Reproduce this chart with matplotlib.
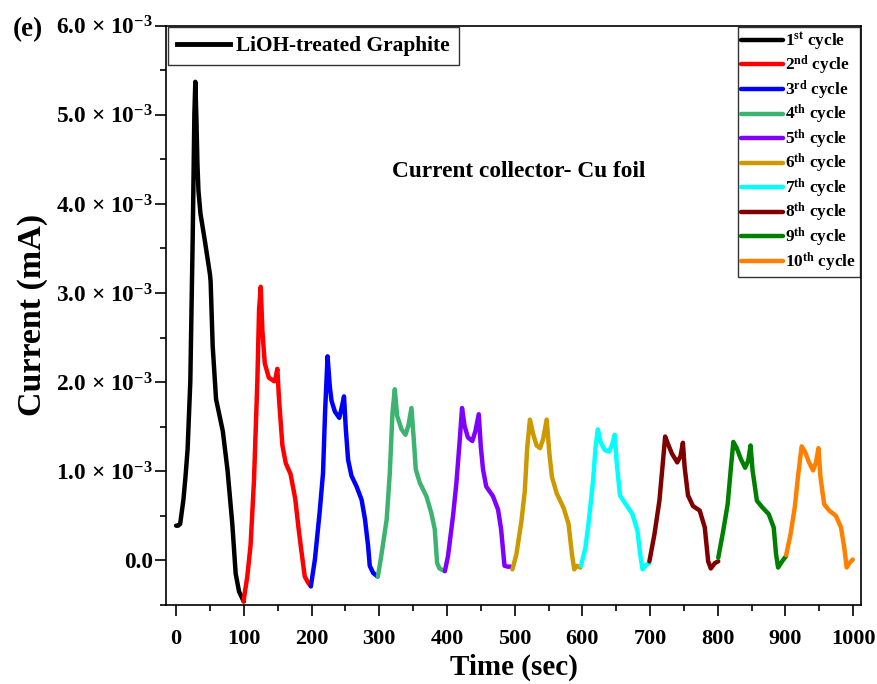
import matplotlib
matplotlib.use("Agg")
import matplotlib.pyplot as plt
from matplotlib.ticker import MultipleLocator, FuncFormatter

plt.rcParams['font.family'] = ['Liberation Serif', 'DejaVu Serif']
plt.rcParams['font.weight'] = 'bold'
plt.rcParams['mathtext.fontset'] = 'custom'
plt.rcParams['mathtext.rm'] = 'Liberation Serif:bold'
plt.rcParams['mathtext.bf'] = 'Liberation Serif:bold'
plt.rcParams['mathtext.it'] = 'Liberation Serif:bold:italic'

SCALE = 1e-3  # currents below are in units of 1e-3 mA

t1 = [0, 3, 6, 10.8, 14, 17, 21, 24.5, 27, 28.4, 30, 31.5, 33, 36, 42, 50, 51, 54, 59, 69, 76, 83, 88, 93, 98, 100]
c1 = [0.39, 0.39, 0.41, 0.68, 0.95, 1.25, 2.01, 3.61, 5.01, 5.37, 4.95, 4.45, 4.15, 3.89, 3.61, 3.21, 3.13, 2.41, 1.81, 1.45, 1.01, 0.41, -0.15, -0.35, -0.43, -0.46]

t2 = [99.5, 105, 110, 115, 120, 122.5, 125, 127.5, 131, 137, 145, 147, 149.5, 152, 157, 162, 169, 176, 181, 186, 190, 195, 199]
c2 = [-0.46, -0.19, 0.17, 0.89, 2.01, 2.81, 3.07, 2.57, 2.21, 2.05, 2.01, 2.05, 2.15, 1.81, 1.29, 1.09, 0.97, 0.69, 0.35, 0.05, -0.18, -0.25, -0.29]

t3 = [199, 205, 212, 217, 220, 223.7, 227, 229.6, 234.5, 241, 243.3, 248, 250.7, 254, 259, 266.5, 274, 279, 283.6, 286, 291, 297.5]
c3 = [-0.29, 0.01, 0.54, 0.98, 1.66, 2.29, 1.95, 1.79, 1.67, 1.60, 1.67, 1.84, 1.47, 1.13, 0.95, 0.83, 0.68, 0.46, 0.16, -0.06, -0.14, -0.18]

t4 = [298, 303, 311, 315.6, 319.6, 323, 326.5, 333, 338.8, 343, 347.6, 351, 354, 360, 369.7, 377, 382, 385.5, 389, 396.8]
c4 = [-0.18, 0.05, 0.46, 0.98, 1.66, 1.92, 1.62, 1.47, 1.41, 1.51, 1.71, 1.36, 1.02, 0.87, 0.72, 0.53, 0.35, -0.03, -0.09, -0.12]

t5 = [397, 401.6, 409, 414, 419, 422.3, 426, 431, 437.5, 442, 447, 450, 453.3, 458, 468, 475.5, 480, 485, 490, 495]
c5 = [-0.12, 0.05, 0.50, 0.87, 1.36, 1.71, 1.51, 1.38, 1.34, 1.45, 1.64, 1.28, 1.02, 0.83, 0.72, 0.57, 0.35, -0.06, -0.07, -0.07]

t6 = [496.7, 502.6, 510, 515, 518.6, 522.6, 527.6, 532.4, 537.5, 542, 547.3, 551.3, 555, 562.2, 572.3, 579.6, 584.6, 588, 592, 597]
c6 = [-0.10, 0.07, 0.44, 0.78, 1.27, 1.58, 1.41, 1.29, 1.26, 1.36, 1.58, 1.20, 0.94, 0.75, 0.59, 0.41, 0.07, -0.10, -0.06, -0.08]

t7 = [598, 604.5, 609.5, 615.9, 619.5, 622.9, 626.9, 632.8, 639.2, 644, 647.8, 650.8, 655.6, 664.2, 674, 681.4, 685.4, 688.9, 694, 698.9]
c7 = [-0.06, 0.14, 0.44, 0.90, 1.27, 1.47, 1.33, 1.24, 1.22, 1.30, 1.41, 1.09, 0.73, 0.63, 0.52, 0.33, 0.07, -0.10, -0.05, -0.03]

t8 = [699, 706.4, 713.8, 718.8, 722.3, 726.3, 732.2, 740.1, 745, 748.5, 751, 756, 763.4, 773.3, 780.8, 785.8, 789.7, 795.7, 800.7]
c8 = [-0.01, 0.29, 0.67, 1.09, 1.39, 1.31, 1.20, 1.10, 1.17, 1.32, 1.05, 0.73, 0.61, 0.56, 0.37, -0.01, -0.09, -0.03, -0.01]

t9 = [800.7, 808, 814.6, 819.5, 823, 828, 834, 840.4, 845, 848.4, 851.4, 857.8, 865.3, 875.2, 882.6, 886.1, 889.1, 895, 901]
c9 = [0.03, 0.33, 0.63, 1.05, 1.33, 1.26, 1.14, 1.04, 1.12, 1.29, 1.01, 0.67, 0.60, 0.52, 0.37, 0.07, -0.08, -0.01, 0.05]

t10 = [901, 907.4, 913.8, 918.9, 923.9, 928.8, 934.8, 940.7, 945, 948.7, 951.6, 957.1, 964.6, 974.5, 982, 986.9, 990.4, 994.4, 999.3]
c10 = [0.06, 0.29, 0.60, 0.97, 1.28, 1.22, 1.10, 1.01, 1.10, 1.26, 0.94, 0.63, 0.56, 0.50, 0.37, 0.14, -0.08, -0.03, 0.01]

times = [t1, t2, t3, t4, t5, t6, t7, t8, t9, t10]
currents = [c1, c2, c3, c4, c5, c6, c7, c8, c9, c10]
labels = [r'1$^{\mathrm{st}}$ cycle', r'2$^{\mathrm{nd}}$ cycle', r'3$^{\mathrm{rd}}$ cycle',
          r'4$^{\mathrm{th}}$ cycle', r'5$^{\mathrm{th}}$ cycle', r'6$^{\mathrm{th}}$ cycle',
          r'7$^{\mathrm{th}}$ cycle', r'8$^{\mathrm{th}}$ cycle', r'9$^{\mathrm{th}}$ cycle',
          r'10$^{\mathrm{th}}$ cycle']
colors = ['#000000', '#ff0000', '#0000ff', '#3cb371', '#8000ff', '#cc9900',
          '#00ffff', '#800000', '#008000', '#ff8000']

fig = plt.figure(figsize=(8.78, 6.84), dpi=100)
ax = fig.add_axes([0.189, 0.1155, 0.792, 0.847])

lines = []
for t, c, col, lab in zip(times, currents, colors, labels):
    ln, = ax.plot(t, [v * SCALE for v in c], color=col, lw=3.2, label=lab,
                  solid_joinstyle='round', solid_capstyle='round')
    lines.append(ln)

ax.set_xlim(-15, 1012)
ax.set_ylim(-0.5e-3, 6.0e-3)
ax.xaxis.set_major_locator(MultipleLocator(100))
ax.xaxis.set_minor_locator(MultipleLocator(50))
ax.yaxis.set_major_locator(MultipleLocator(1e-3))
ax.yaxis.set_minor_locator(MultipleLocator(0.5e-3))

def yfmt(v, pos):
    if abs(v) < 1e-9:
        return '0.0'
    return '%.1f × 10$^{-3}$' % (v * 1e3)

ax.yaxis.set_major_formatter(FuncFormatter(yfmt))
ax.tick_params(axis='both', which='major', direction='out', length=8, width=1.2)
ax.tick_params(axis='both', which='minor', direction='out', length=4.5, width=1.2)
ax.tick_params(axis='x', which='major', pad=9, labelsize=16)
ax.tick_params(axis='y', which='major', pad=1.5, labelsize=16.8)
for sp in ax.spines.values():
    sp.set_linewidth(1.2)
for lb in ax.get_xticklabels() + ax.get_yticklabels():
    lb.set_fontweight('bold')

ax.set_xlabel('Time (sec)', fontsize=21, fontweight='bold', labelpad=4)
ax.set_ylabel('Current (mA)', fontsize=24.5, fontweight='bold', labelpad=6)

ax.text(318.6, 4.305e-3, 'Current collector- Cu foil', fontsize=16.8, fontweight='bold',
        va='baseline', ha='left')
fig.text(0.015, 0.957, '(e)', fontsize=19.5, fontweight='bold', va='center', ha='left')

leg2 = ax.legend(handles=lines, loc='upper right', fontsize=12.4, frameon=True,
                 fancybox=False, edgecolor='black', borderaxespad=0.1,
                 handlelength=2.4, labelspacing=0.08, handletextpad=0.15,
                 borderpad=0.2)
leg2.get_frame().set_linewidth(1.0)
ax.add_artist(leg2)

proxy, = ax.plot([], [], color='black', lw=3.5, label='LiOH-treated Graphite')
leg1 = ax.legend(handles=[proxy], loc='upper left', fontsize=15.4, frameon=True,
                 fancybox=False, edgecolor='black', borderaxespad=0.08,
                 handlelength=2.5, handletextpad=0.28, borderpad=0.42)
leg1.get_frame().set_linewidth(1.0)

fig.savefig('out.png', dpi=100)
